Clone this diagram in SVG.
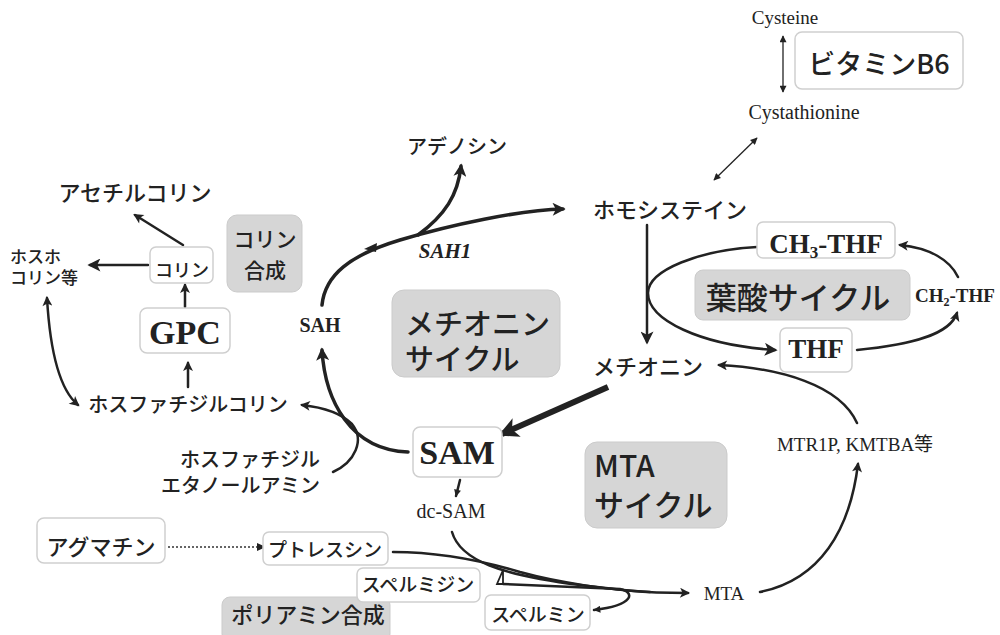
<svg xmlns="http://www.w3.org/2000/svg" width="1000" height="635" viewBox="0 0 1000 635">
<style>
.jp{font-family:"Noto Sans CJK JP","Noto Sans",sans-serif;fill:#222;font-weight:500}
.sf{font-family:"Liberation Serif","Noto Sans CJK JP",serif;fill:#222}
.b{font-weight:bold}
.wb{fill:#fff;stroke:#cfcfcf;stroke-width:1.5}
.gb{fill:#d6d6d6;stroke:#cbcbcb;stroke-width:1}
.thick{fill:none;stroke:#222;stroke-width:3.5;stroke-linecap:round}
.mid{fill:none;stroke:#222;stroke-width:2.5;stroke-linecap:round}
.thin{fill:none;stroke:#222;stroke-width:1.3}
</style>
<defs>
<marker id="ah" viewBox="0 0 10 10" refX="8" refY="5" markerUnits="userSpaceOnUse" markerWidth="15" markerHeight="13" orient="auto-start-reverse"><path d="M0,0 L10,5 L0,10 L2.5,5 z" fill="#222"/></marker>
<marker id="am" viewBox="0 0 10 10" refX="8" refY="5" markerUnits="userSpaceOnUse" markerWidth="11" markerHeight="10" orient="auto-start-reverse"><path d="M0,0 L10,5 L0,10 L2.5,5 z" fill="#222"/></marker>
<marker id="ab" viewBox="0 0 10 10" refX="8" refY="5" markerUnits="userSpaceOnUse" markerWidth="22" markerHeight="20" orient="auto-start-reverse"><path d="M0,0 L10,5 L0,10 L2.5,5 z" fill="#222"/></marker>
<marker id="as" viewBox="0 0 10 10" refX="9" refY="5" markerUnits="userSpaceOnUse" markerWidth="8" markerHeight="7" orient="auto-start-reverse"><path d="M0,0 L10,5 L0,10 z" fill="#222"/></marker>
</defs>

<g id="connectors">
<path class="thick" d="M322,305 C325,275 350,255 400,240 S520,210 563,209" marker-end="url(#ah)"/>
<path class="thick" d="M418,235 C445,215 458,195 461,166" marker-end="url(#ah)"/>
<polygon points="364,249 377,243 376,252" fill="#222"/>
<path class="mid" d="M647,225 L647,342" marker-end="url(#ah)"/>
<path class="mid" d="M757,247 C700,250 648,270 648,293 C648,320 700,345 775,350" marker-end="url(#ah)"/>
<path class="mid" d="M857,350 C910,345 950,335 957,313" marker-end="url(#am)"/>
<path class="mid" d="M958,277 C950,260 930,248 900,245" marker-end="url(#am)"/>
<path class="mid" d="M857,423 C840,385 780,368 719,365" marker-end="url(#am)"/>
<path class="mid" d="M760,592 C820,580 850,530 858,464" marker-end="url(#am)"/>
<path fill="none" stroke="#222" stroke-width="6" d="M608,387 L502,434" marker-end="url(#ab)"/>
<path class="thick" d="M408,452 C350,450 325,400 322,350" marker-end="url(#ah)"/>
<path class="mid" d="M333,472 C355,462 365,440 352,424 C340,412 320,407 302,405" marker-end="url(#am)"/>
<path class="mid" d="M47,298 C50,350 60,390 78,405" marker-start="url(#am)" marker-end="url(#am)"/>
<path class="mid" d="M148,265 L90,265" marker-end="url(#ah)"/>
<path class="mid" d="M183,245 L135,215" marker-end="url(#am)"/>
<path class="mid" d="M185,307 L185,285" marker-end="url(#am)"/>
<path class="mid" d="M188,387 L188,363" marker-end="url(#am)"/>
<path class="thin" d="M783,36 L783,92" marker-start="url(#as)" marker-end="url(#as)"/>
<path class="thin" d="M757,138 L714,180" marker-start="url(#as)" marker-end="url(#as)"/>
<path class="mid" d="M460,480 L456,496" marker-end="url(#as)"/>
<path class="mid" d="M452,532 C460,560 500,575 580,585 S660,592 688,593" marker-end="url(#am)"/>
<path class="mid" d="M393,552 C440,552 480,560 520,572 C560,583 610,590 650,592"/>
<path fill="none" stroke="#222" stroke-width="1.8" d="M503,570 L497,584 L503,584 Z"/>
<path class="mid" d="M503,584 L620,589 C635,592 635,605 594,610" marker-end="url(#as)"/>
<path fill="none" stroke="#333" stroke-width="1.6" stroke-dasharray="2,2" d="M168,547 L258,547"/>
<polygon points="266,547 257,543 257,551" fill="#222"/>
</g>

<g id="cysteine"><text class="sf" x="785" y="24" font-size="19" text-anchor="middle">Cysteine</text></g>
<g id="vitb6"><rect class="wb" x="795" y="32" width="168" height="57" rx="7"/><text class="jp" x="879" y="74" font-size="27" text-anchor="middle">ビタミンB6</text></g>
<g id="cystathionine"><text class="sf" x="804" y="119" font-size="20" text-anchor="middle">Cystathionine</text></g>
<g id="adenosine"><text class="jp" x="457" y="154" font-size="20" text-anchor="middle">アデノシン</text></g>
<g id="acetylcholine"><text class="jp" x="135" y="201" font-size="22" text-anchor="middle">アセチルコリン</text></g>
<g id="homocysteine"><text class="jp" x="670" y="218" font-size="22" text-anchor="middle">ホモシステイン</text></g>
<g id="phosphocholine"><text class="jp" font-size="17"><tspan x="10" y="263">ホスホ</tspan><tspan x="10" y="284">コリン等</tspan></text></g>
<g id="choline"><rect class="wb" x="150" y="247" width="63" height="36" rx="6"/><text class="jp" x="182" y="277" font-size="18" text-anchor="middle">コリン</text></g>
<g id="choline-synth"><rect class="gb" x="227" y="215" width="75" height="77" rx="10"/><text class="jp" font-size="21" text-anchor="middle"><tspan x="265" y="247">コリン</tspan><tspan x="265" y="278">合成</tspan></text></g>
<g id="gpc"><rect class="wb" x="140" y="308" width="90" height="45" rx="7"/><text class="sf b" x="185" y="344" font-size="34" text-anchor="middle">GPC</text></g>
<g id="sah"><text class="sf b" x="320" y="332" font-size="20" text-anchor="middle">SAH</text></g>
<g id="sah1"><text class="sf b" x="445" y="258" font-size="21" font-style="italic" text-anchor="middle">SAH1</text></g>
<g id="met-cycle"><rect class="gb" x="392" y="290" width="168" height="87" rx="12"/><text class="jp" font-size="29"><tspan x="405" y="335">メチオニン</tspan><tspan x="405" y="370">サイクル</tspan></text></g>
<g id="ch3thf"><rect class="wb" x="757" y="222" width="138" height="36" rx="6"/><text class="sf b" x="826" y="253" font-size="27" text-anchor="middle">CH<tspan font-size="17" dy="5">3</tspan><tspan dy="-5">-THF</tspan></text></g>
<g id="folate-cycle"><rect class="gb" x="695" y="270" width="215" height="50" rx="8"/><text class="jp" x="798" y="309" font-size="31" text-anchor="middle">葉酸サイクル</text></g>
<g id="ch2thf"><text class="sf b" x="955" y="302" font-size="19" text-anchor="middle">CH<tspan font-size="12" dy="4">2</tspan><tspan dy="-4">-THF</tspan></text></g>
<g id="thf"><rect class="wb" x="780" y="328" width="72" height="44" rx="6"/><text class="sf b" x="816" y="358" font-size="27" text-anchor="middle">THF</text></g>
<g id="methionine"><text class="jp" x="648" y="375" font-size="22" text-anchor="middle">メチオニン</text></g>
<g id="pc"><text class="jp" x="188" y="412" font-size="20" text-anchor="middle">ホスファチジルコリン</text></g>
<g id="pe"><text class="jp" font-size="20" text-anchor="end"><tspan x="320" y="467">ホスファチジル</tspan><tspan x="320" y="493">エタノールアミン</tspan></text></g>
<g id="sam"><rect class="wb" x="413" y="427" width="89" height="50" rx="7"/><text class="sf b" x="457" y="464" font-size="34" text-anchor="middle">SAM</text></g>
<g id="mtr1p"><text class="sf" x="855" y="451" font-size="19" text-anchor="middle">MTR1P, KMTBA等</text></g>
<g id="mta-cycle"><rect class="gb" x="585" y="442" width="142" height="86" rx="12"/><text class="jp" font-size="30"><tspan x="594" y="477">MTA</tspan><tspan x="594" y="516">サイクル</tspan></text></g>
<g id="dcsam"><text class="sf" x="451" y="518" font-size="20" text-anchor="middle">dc-SAM</text></g>
<g id="agmatine"><rect class="wb" x="37" y="518" width="128" height="45" rx="7"/><text class="jp" x="101" y="555" font-size="22" text-anchor="middle">アグマチン</text></g>
<g id="putrescine"><rect class="wb" x="263" y="532" width="125" height="33" rx="6"/><text class="jp" x="325" y="557" font-size="19" text-anchor="middle">プトレスシン</text></g>
<g id="polyamine"><rect class="gb" x="222" y="597" width="168" height="45" rx="8"/><text class="jp" x="308" y="623" font-size="22" text-anchor="middle">ポリアミン合成</text></g>
<g id="spermidine"><rect class="wb" x="357" y="568" width="123" height="34" rx="6"/><text class="jp" x="418" y="592" font-size="19" text-anchor="middle">スペルミジン</text></g>
<g id="spermine"><rect class="wb" x="485" y="595" width="105" height="35" rx="6"/><text class="jp" x="538" y="622" font-size="19" text-anchor="middle">スペルミン</text></g>
<g id="mta"><text class="sf" x="724" y="600" font-size="19" text-anchor="middle">MTA</text></g>
</svg>
